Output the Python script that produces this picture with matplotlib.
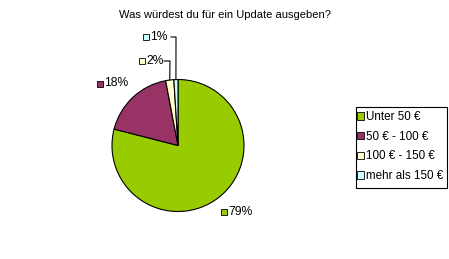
import numpy as np
import matplotlib
matplotlib.use("Agg")
import matplotlib.pyplot as plt
from matplotlib.patches import Rectangle, Patch

categories = ["Unter 50 €", "50 € - 100 €", "100 € - 150 €", "mehr als 150 €"]
values = [79, 18, 2, 1]
colors = ["#99CC00", "#993366", "#FFFFCC", "#CCFFFF"]
title = "Was würdest du für ein Update ausgeben?"

plt.rcParams['font.family'] = ['Liberation Sans', 'DejaVu Sans']
W, H = 449, 259
fig = plt.figure(figsize=(W/100, H/100), dpi=100)
fig.patch.set_facecolor("white")

cx, cy, r = 178, 145.5, 66
ax = fig.add_axes([(cx - r)/W, 1 - (cy + r)/H, 2*r/W, 2*r/H])
wedges, _ = ax.pie(values, colors=colors, startangle=90, counterclock=False,
                   wedgeprops=dict(edgecolor="black", linewidth=0.8))
ax.set_xlim(-1, 1); ax.set_ylim(-1, 1)
ax.set_aspect('auto')
ax.axis('off')

fig.text(225/W, 1 - 15/H, title, ha='center', va='center', fontsize=8)

def fpt(x, y):
    return (x/W, 1 - y/H)

# label positions (pixel) : marker square left x, center y
label_pos = [(221, 212), (97, 83.5), (139, 61), (143, 37)]
sq = 6
for (lx, ly), v, c in zip(label_pos, values, colors):
    x0, y0 = fpt(lx, ly + sq/2)
    fig.add_artist(Rectangle((x0, y0), sq/W, sq/H, transform=fig.transFigure,
                             facecolor=c, edgecolor='black', linewidth=0.6))
    fig.text((lx + sq + 1)/W, 1 - ly/H, f"{v}%", ha='left', va='center', fontsize=8.7)

# leader lines for small slices
cum = np.cumsum([0] + values)
total = sum(values)
for i, ex, ey, kx in [(2, 164, 61, 170), (3, 171, 37, 176)]:
    mid = 90 - 360 * (cum[i] + cum[i+1]) / 2 / total
    px = cx + r * np.cos(np.radians(mid))
    py = cy - r * np.sin(np.radians(mid))
    xs = [ex/W, kx/W, px/W]
    ys = [1 - ey/H, 1 - ey/H, 1 - py/H]
    fig.add_artist(plt.Line2D(xs, ys, transform=fig.transFigure, color='black', linewidth=0.8))

# legend frame
fx0, fy0, fx1, fy1 = 356, 107, 446.5, 187.5
fig.add_artist(Rectangle((fx0/W, 1 - fy1/H), (fx1 - fx0)/W, (fy1 - fy0)/H,
                         transform=fig.transFigure, facecolor='white',
                         edgecolor='black', linewidth=0.8, zorder=1))

handles = [Patch(facecolor=c, edgecolor='black', linewidth=0.6) for c in colors]
leg = fig.legend(handles, categories, loc='upper left',
                 bbox_to_anchor=(357/W, 1 - 111/H), fontsize=8.4,
                 frameon=False, handlelength=0.6, handleheight=0.6,
                 handletextpad=0.15, labelspacing=0.66, borderpad=0, borderaxespad=0)
leg.set_zorder(2)

fig.savefig("out.png", dpi=100, facecolor="white")
